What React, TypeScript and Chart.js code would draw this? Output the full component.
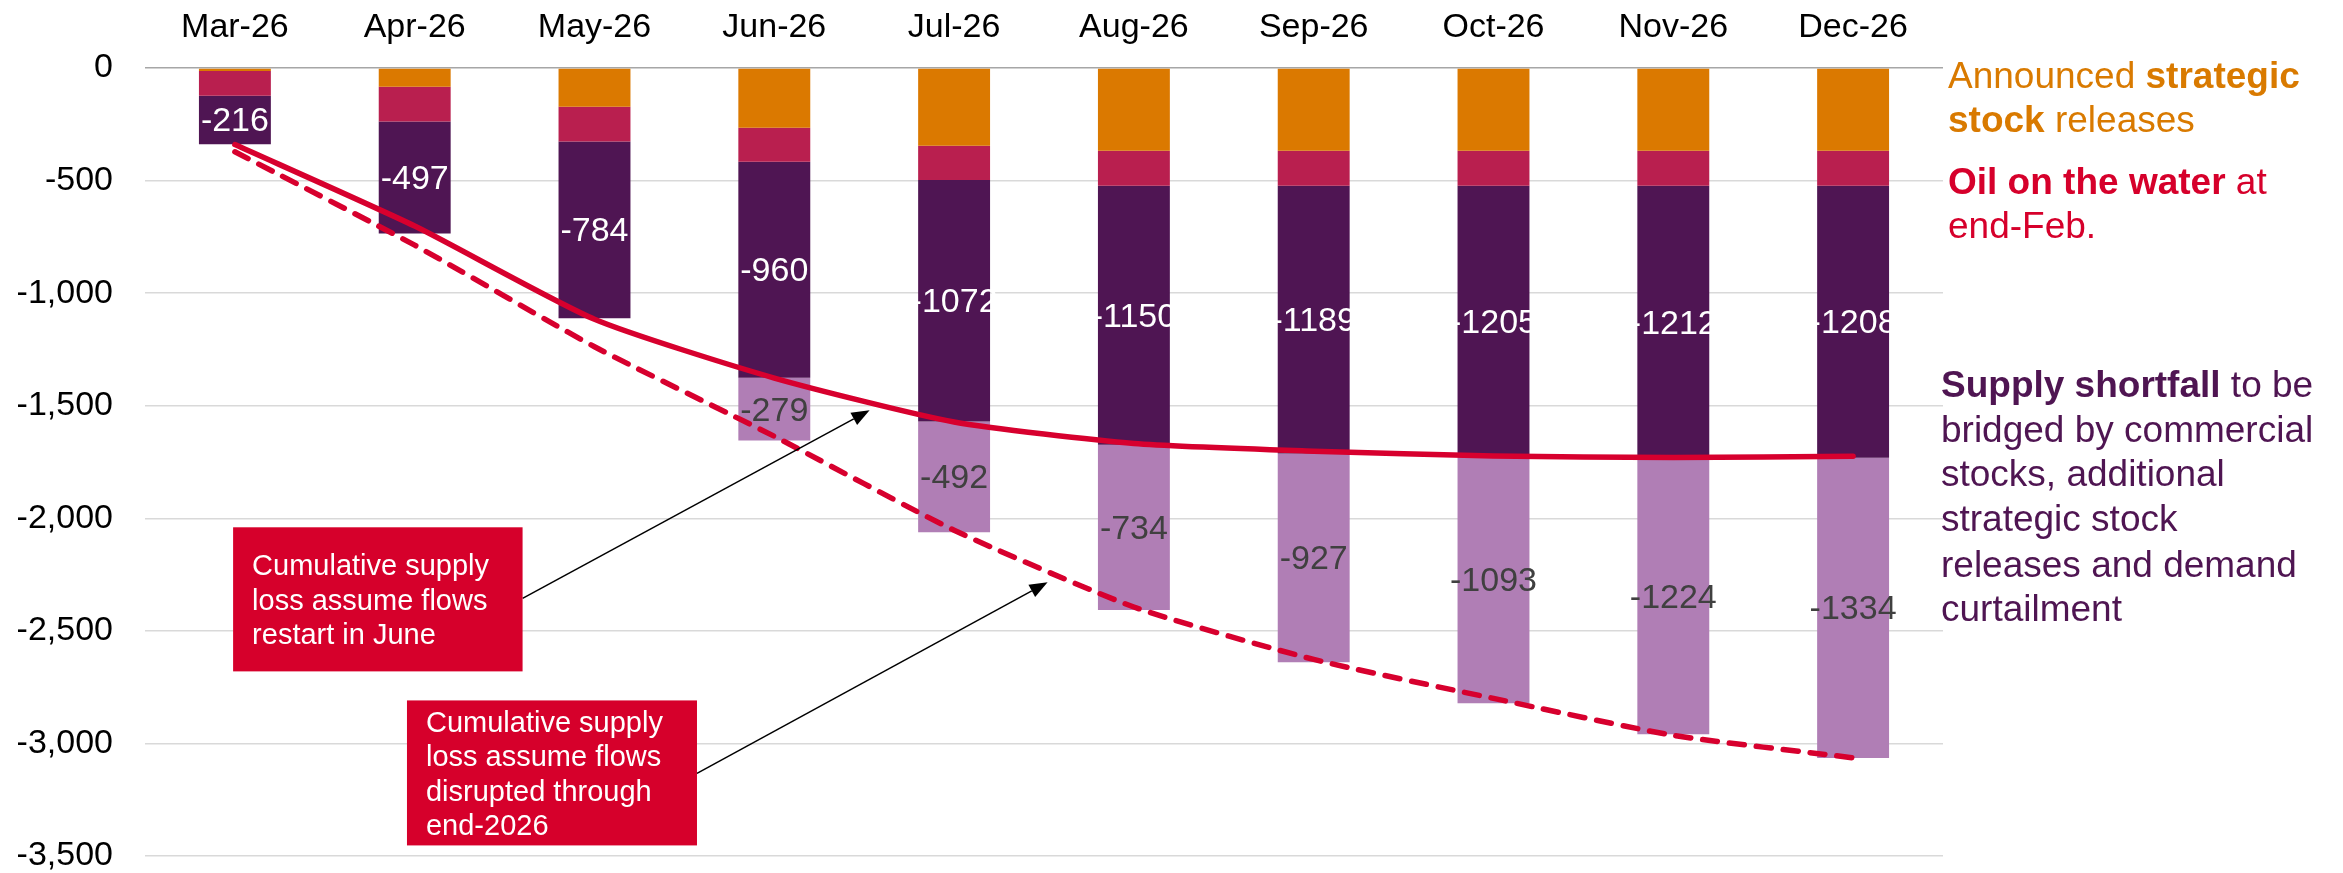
import React, { useEffect, useRef } from 'react';
import { Chart, registerables } from 'chart.js';

Chart.register(...registerables);

// ---------------- DATA ----------------
const categories = ['Mar-26', 'Apr-26', 'May-26', 'Jun-26', 'Jul-26', 'Aug-26', 'Sep-26', 'Oct-26', 'Nov-26', 'Dec-26'];

// Announced strategic stock releases
const strategicReleases = [-13, -83, -172, -265, -345, -367, -367, -367, -367, -367];
// Oil on the water at end-Feb.
const oilOnWater = [-110, -155, -155, -151, -153, -156, -156, -156, -156, -156];
// Supply shortfall (flows restart in June)
const shortfallRestart = [-216, -497, -784, -960, -1072, -1150, -1189, -1205, -1212, -1208];
// Additional shortfall if flows disrupted through end-2026
const shortfallExtended = [null, null, null, -279, -492, -734, -927, -1093, -1224, -1334];

// Cumulative supply loss, flows restart in June (solid line)
const cumLossRestart = [-340, -702, -1116, -1377, -1572, -1668, -1702, -1723, -1730, -1725];
// Cumulative supply loss, flows disrupted through end-2026 (dashed line)
const cumLossDisrupted = [-372, -787, -1238, -1636, -2053, -2394, -2627, -2800, -2964, -3064];

const yTicks = [0, -500, -1000, -1500, -2000, -2500, -3000, -3500];

// Annotation boxes (category index, value)
const annotationBoxes = [
  { x0: -0.01, x1: 1.6, y0: -2040, y1: -2680, lines: ['Cumulative supply', 'loss assume flows', 'restart in June'] },
  { x0: 0.957, x1: 2.57, y0: -2809, y1: -3453, lines: ['Cumulative supply', 'loss assume flows', 'disrupted through', 'end-2026'] },
];
const annotationArrows = [
  { fx: 1.6, fy: -2356, tx: 3.53, ty: -1520 },
  { fx: 2.57, fy: -3133, tx: 4.52, ty: -2284 },
];

// Right-side legend texts
type Run = { t: string; b: boolean };
const legendBlocks: { color: string; dx: number; dy: number[]; lines: Run[][] }[] = [
  {
    color: '#D97A00', dx: 5, dy: [20, 64],
    lines: [
      [{ t: 'Announced ', b: false }, { t: 'strategic', b: true }],
      [{ t: 'stock', b: true }, { t: ' releases', b: false }],
    ],
  },
  {
    color: '#D6002B', dx: 5, dy: [126, 170],
    lines: [
      [{ t: 'Oil on the water', b: true }, { t: ' at', b: false }],
      [{ t: 'end-Feb.', b: false }],
    ],
  },
  {
    color: '#4F1552', dx: -2, dy: [329, 374, 418, 463, 509, 553],
    lines: [
      [{ t: 'Supply shortfall', b: true }, { t: ' to be', b: false }],
      [{ t: 'bridged by commercial', b: false }],
      [{ t: 'stocks, additional', b: false }],
      [{ t: 'strategic stock', b: false }],
      [{ t: 'releases and demand', b: false }],
      [{ t: 'curtailment', b: false }],
    ],
  },
];

const FONT = '"Liberation Sans", Arial, Helvetica, sans-serif';
const C_ORANGE = '#DB7900';
const C_CRIMSON = '#B91F4F';
const C_DARKPURPLE = '#4F1553';
const C_LIGHTPURPLE = '#B07EB5';
const C_RED = '#D7002E';
const C_BOX = '#D6002B';

// ---------------- PLUGINS ----------------
const segmentLabels = {
  id: 'segmentLabels',
  afterDatasetDraw(chart: any, args: any) {
    if (args.index !== 0) return;
    const ctx = chart.ctx;
    ctx.save();
    ctx.font = `34px ${FONT}`;
    ctx.textAlign = 'center';
    ctx.textBaseline = 'middle';
    const specs = [
      { ds: 2, color: '#FFFFFF' },
      { ds: 3, color: '#404040' },
    ];
    for (const s of specs) {
      const meta = chart.getDatasetMeta(s.ds);
      const data = chart.data.datasets[s.ds].data;
      meta.data.forEach((el: any, i: number) => {
        const v = data[i];
        if (v === null || v === undefined) return;
        const y = (el.y + el.base) / 2;
        ctx.fillStyle = s.color;
        ctx.fillText(String(v), el.x, y + 2);
      });
    }
    ctx.restore();
  },
};

const annotations = {
  id: 'annotationsAndLegend',
  afterDraw(chart: any) {
    const ctx = chart.ctx;
    const xs = chart.scales.x;
    const ys = chart.scales.y;
    ctx.save();
    // arrows
    for (const a of annotationArrows) {
      const x1 = xs.getPixelForValue(a.fx);
      const y1 = ys.getPixelForValue(a.fy);
      const x2 = xs.getPixelForValue(a.tx);
      const y2 = ys.getPixelForValue(a.ty);
      const ang = Math.atan2(y2 - y1, x2 - x1);
      const L = 18;
      const W = 7;
      const bx = x2 - L * Math.cos(ang);
      const by = y2 - L * Math.sin(ang);
      ctx.strokeStyle = '#000';
      ctx.lineWidth = 1.5;
      ctx.beginPath();
      ctx.moveTo(x1, y1);
      ctx.lineTo(bx, by);
      ctx.stroke();
      ctx.fillStyle = '#000';
      ctx.beginPath();
      ctx.moveTo(x2, y2);
      ctx.lineTo(bx + W * Math.sin(ang), by - W * Math.cos(ang));
      ctx.lineTo(bx - W * Math.sin(ang), by + W * Math.cos(ang));
      ctx.closePath();
      ctx.fill();
    }
    // boxes
    for (const b of annotationBoxes) {
      const left = xs.getPixelForValue(b.x0);
      const right = xs.getPixelForValue(b.x1);
      const top = ys.getPixelForValue(b.y0);
      const bottom = ys.getPixelForValue(b.y1);
      ctx.fillStyle = C_BOX;
      ctx.fillRect(left, top, right - left, bottom - top);
      ctx.fillStyle = '#FFFFFF';
      ctx.font = `29px ${FONT}`;
      ctx.textAlign = 'left';
      ctx.textBaseline = 'alphabetic';
      const cy = (top + bottom) / 2;
      const n = b.lines.length;
      const lh = 34.5;
      b.lines.forEach((ln, i) => {
        const yb = cy + (i - (n - 1) / 2) * lh + 10.4;
        ctx.fillText(ln, left + 19, yb);
      });
    }
    // right-side legend text
    const ca = chart.chartArea;
    ctx.textAlign = 'left';
    ctx.textBaseline = 'alphabetic';
    for (const blk of legendBlocks) {
      ctx.fillStyle = blk.color;
      blk.lines.forEach((runs, i) => {
        let x = ca.right + blk.dx;
        const y = ca.top + blk.dy[i];
        for (const r of runs) {
          ctx.font = `${r.b ? 'bold ' : ''}37px ${FONT}`;
          ctx.fillText(r.t, x, y);
          x += ctx.measureText(r.t).width;
        }
      });
    }
    ctx.restore();
  },
};

// ---------------- COMPONENT ----------------
export default function App() {
  const ref = useRef<HTMLCanvasElement>(null);

  useEffect(() => {
    document.body.style.margin = '0';
    const canvas = ref.current;
    if (!canvas) return;
    const chart = new Chart(canvas, {
      type: 'bar',
      data: {
        labels: categories,
        datasets: [
          { type: 'bar', label: 'Announced strategic stock releases', data: strategicReleases, backgroundColor: C_ORANGE, stack: 'bars', order: 1 },
          { type: 'bar', label: 'Oil on the water at end-Feb.', data: oilOnWater, backgroundColor: C_CRIMSON, stack: 'bars', order: 1 },
          { type: 'bar', label: 'Supply shortfall', data: shortfallRestart, backgroundColor: C_DARKPURPLE, stack: 'bars', order: 1 },
          { type: 'bar', label: 'Additional shortfall', data: shortfallExtended as any, backgroundColor: C_LIGHTPURPLE, stack: 'bars', order: 1 },
          {
            type: 'line', label: 'Cumulative supply loss (restart in June)', data: cumLossRestart, stack: 'solid', order: 0,
            borderColor: C_RED, borderWidth: 5.5, pointRadius: 0, tension: 0.2, fill: false, borderCapStyle: 'round', borderJoinStyle: 'round',
          },
          {
            type: 'line', label: 'Cumulative supply loss (disrupted through end-2026)', data: cumLossDisrupted, stack: 'dashed', order: 0,
            borderColor: C_RED, borderWidth: 5.5, pointRadius: 0, tension: 0.2, fill: false, borderDash: [15, 12], borderCapStyle: 'round',
          },
        ] as any,
      },
      options: {
        responsive: false,
        devicePixelRatio: 1,
        animation: false,
        layout: { padding: { left: 0, right: 400, top: 0, bottom: 17 } },
        plugins: {
          legend: { display: false },
          tooltip: { enabled: false },
        },
        datasets: {
          bar: { barPercentage: 0.4, categoryPercentage: 1.0 },
        },
        scales: {
          x: {
            position: 'top',
            stacked: true,
            offset: true,
            grid: { display: false, drawTicks: false },
            border: { display: false },
            ticks: {
              color: '#000',
              font: { family: FONT, size: 34 },
              padding: 20,
              maxRotation: 0,
              autoSkip: false,
            },
            afterFit: (s: any) => { s.height = 68; s.paddingLeft = 0; s.paddingRight = 0; },
          },
          y: {
            stacked: true,
            min: -3500,
            max: 0,
            afterBuildTicks: (s: any) => { s.ticks = yTicks.map((v) => ({ value: v })); },
            grid: {
              drawTicks: false,
              lineWidth: 1.5,
              color: (c: any) => (c.tick && c.tick.value === 0 ? '#A6A6A6' : '#D9D9D9'),
            },
            border: { display: false },
            ticks: {
              color: '#000',
              font: { family: FONT, size: 34, lineHeight: 1.0 },
              padding: 32,
              callback: (v: any) => Number(v).toLocaleString('en-US'),
            },
            afterFit: (s: any) => { s.width = 145; s.paddingTop = 0; s.paddingBottom = 0; },
          },
        },
      } as any,
      plugins: [segmentLabels, annotations],
    });
    return () => chart.destroy();
  }, []);

  return (
    <div style={{ width: 2343, height: 873 }}>
      <canvas ref={ref} width={2343} height={873} style={{ display: 'block' }} />
    </div>
  );
}
